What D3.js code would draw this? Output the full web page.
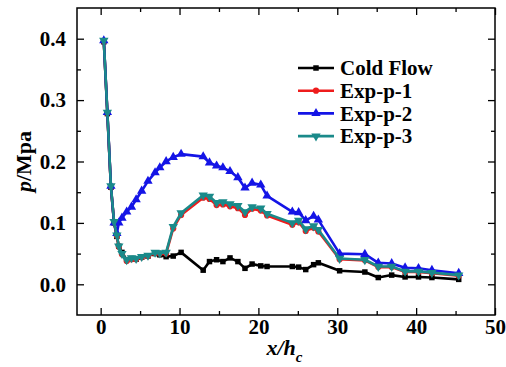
<!DOCTYPE html>
<html>
<head>
<meta charset="utf-8">
<script src="https://cdn.jsdelivr.net/npm/d3@7"></script>
<style>
body { margin: 0; background: #fff; }
svg { display: block; }
</style>
</head>
<body>
<svg id="chart" width="506" height="367"></svg>
<script>
// measuring points x/h_c
var xPos = [0.4, 0.85, 1.3, 1.7, 2.05, 2.3, 2.7, 3.3, 3.9, 4.5, 5.2, 6.0, 6.9, 7.5, 8.3, 9.2, 10.2,
    13.0, 13.8, 14.7, 15.5, 16.4, 17.4, 18.3, 19.2, 20.3, 21.1, 24.3, 25.1, 26.0, 27.0, 27.6,
    30.3, 33.5, 35.2, 36.9, 38.6, 40.3, 42.0, 45.4];

var coldFlow = [0.395, 0.278, 0.158, 0.100, 0.078, 0.062, 0.052, 0.040, 0.042, 0.041, 0.044, 0.046, 0.050, 0.048, 0.045, 0.046, 0.052,
    0.023, 0.037, 0.040, 0.037, 0.043, 0.037, 0.026, 0.033, 0.030, 0.029, 0.029, 0.028, 0.024, 0.032, 0.035,
    0.022, 0.020, 0.011, 0.015, 0.012, 0.012, 0.011, 0.008];

var expP1 = [0.396, 0.279, 0.159, 0.101, 0.079, 0.061, 0.049, 0.038, 0.041, 0.041, 0.044, 0.046, 0.051, 0.050, 0.050, 0.091, 0.113,
    0.141, 0.139, 0.129, 0.130, 0.127, 0.124, 0.113, 0.123, 0.120, 0.112, 0.097, 0.101, 0.087, 0.092, 0.086,
    0.041, 0.039, 0.028, 0.028, 0.020, 0.020, 0.018, 0.014];

var expP2 = [0.397, 0.280, 0.160, 0.100, 0.083, 0.100, 0.108, 0.118, 0.126, 0.138, 0.152, 0.168, 0.182, 0.190, 0.200, 0.207, 0.212,
    0.208, 0.198, 0.193, 0.190, 0.184, 0.174, 0.157, 0.165, 0.162, 0.144, 0.118, 0.117, 0.104, 0.111, 0.105,
    0.050, 0.049, 0.035, 0.034, 0.027, 0.026, 0.023, 0.018];

var expP3 = [0.397, 0.280, 0.160, 0.102, 0.080, 0.062, 0.050, 0.040, 0.043, 0.042, 0.045, 0.047, 0.052, 0.051, 0.052, 0.094, 0.116,
    0.145, 0.143, 0.133, 0.134, 0.131, 0.128, 0.118, 0.126, 0.124, 0.115, 0.100, 0.104, 0.090, 0.095, 0.089,
    0.042, 0.040, 0.029, 0.029, 0.021, 0.021, 0.019, 0.015];

var seriesNames = ["Cold Flow", "Exp-p-1", "Exp-p-2", "Exp-p-3"];
var seriesColors = ["#000000", "#ee1c1c", "#1414e6", "#1a8a8a"];

var xTicks = [0, 10, 20, 30, 40, 50];
var xMinor = [5, 15, 25, 35, 45];
var yTicks = [0.0, 0.1, 0.2, 0.3, 0.4];
var yMinor = [0.05, 0.15, 0.25, 0.35];

var FONT = '"Liberation Serif", "Times New Roman", "DejaVu Serif", serif';

var width = 506, height = 367;
var margin = {top: 8, right: 11, bottom: 52, left: 77};
var plotW = width - margin.left - margin.right;
var plotH = height - margin.top - margin.bottom;

var svg = d3.select("#chart");
var g = svg.append("g")
    .attr("transform", "translate(" + margin.left + "," + margin.top + ")");

var xScale = d3.scaleLinear().domain([-3, 50]).range([0, plotW]);
var yScale = d3.scaleLinear().domain([-0.05, 0.45]).range([plotH, 0]);

// axes, ticks pointing inwards, mirrored on top/right
function styleAxis(sel) {
    sel.attr("font-family", null).attr("font-size", null);
    sel.select(".domain").remove();
    sel.selectAll("line").attr("stroke", "#000").attr("stroke-width", 1.3);
    sel.selectAll("text")
        .style("font-family", FONT)
        .style("font-weight", "bold")
        .style("font-size", "21px")
        .attr("fill", "#000");
}

g.append("g").attr("transform", "translate(0," + plotH + ")")
    .call(d3.axisBottom(xScale).tickValues(xTicks).tickSize(-7).tickPadding(4).tickFormat(d3.format("d")))
    .call(styleAxis);
g.append("g").attr("transform", "translate(0," + plotH + ")")
    .call(d3.axisBottom(xScale).tickValues(xMinor).tickSize(-4).tickFormat(""))
    .call(styleAxis);
g.append("g")
    .call(d3.axisTop(xScale).tickValues(xTicks).tickSize(-7).tickFormat(""))
    .call(styleAxis);
g.append("g")
    .call(d3.axisTop(xScale).tickValues(xMinor).tickSize(-4).tickFormat(""))
    .call(styleAxis);

g.append("g")
    .call(d3.axisLeft(yScale).tickValues(yTicks).tickSize(-7).tickPadding(11).tickFormat(d3.format(".1f")))
    .call(styleAxis);
g.append("g")
    .call(d3.axisLeft(yScale).tickValues(yMinor).tickSize(-4).tickFormat(""))
    .call(styleAxis);
g.append("g").attr("transform", "translate(" + plotW + ",0)")
    .call(d3.axisRight(yScale).tickValues(yTicks).tickSize(-7).tickFormat(""))
    .call(styleAxis);
g.append("g").attr("transform", "translate(" + plotW + ",0)")
    .call(d3.axisRight(yScale).tickValues(yMinor).tickSize(-4).tickFormat(""))
    .call(styleAxis);

g.append("rect")
    .attr("width", plotW).attr("height", plotH)
    .attr("fill", "none").attr("stroke", "#000").attr("stroke-width", 1.5);

// series
var allSeries = [coldFlow, expP1, expP2, expP3];
var symbols = [
    {type: d3.symbolSquare, size: 30, rot: 0},
    {type: d3.symbolCircle, size: 30, rot: 0},
    {type: d3.symbolTriangle, size: 38, rot: 0},
    {type: d3.symbolTriangle, size: 38, rot: 180}
];

var line = d3.line()
    .x(function(d) { return xScale(d[0]); })
    .y(function(d) { return yScale(d[1]); });

allSeries.forEach(function(vals, i) {
    var pts = xPos.map(function(x, j) { return [x, vals[j]]; });
    var sg = g.append("g").attr("class", "series");
    sg.append("path")
        .datum(pts)
        .attr("d", line)
        .attr("fill", "none")
        .attr("stroke", seriesColors[i])
        .attr("stroke-width", 2.6)
        .attr("stroke-linejoin", "round");
    sg.selectAll("path.mark")
        .data(pts)
        .enter()
        .append("path")
        .attr("class", "mark")
        .attr("d", d3.symbol().type(symbols[i].type).size(symbols[i].size))
        .attr("transform", function(d) {
            return "translate(" + xScale(d[0]) + "," + yScale(d[1]) + ") rotate(" + symbols[i].rot + ")";
        })
        .attr("fill", seriesColors[i]);
});

// legend
var legend = svg.append("g").attr("transform", "translate(298,68)");
seriesNames.forEach(function(name, i) {
    var lg = legend.append("g").attr("transform", "translate(0," + (i * 22.7) + ")");
    lg.append("line")
        .attr("x1", 0).attr("x2", 36)
        .attr("stroke", seriesColors[i]).attr("stroke-width", 2.6);
    lg.append("path")
        .attr("d", d3.symbol().type(symbols[i].type).size(symbols[i].size))
        .attr("transform", "translate(18,0) rotate(" + symbols[i].rot + ")")
        .attr("fill", seriesColors[i]);
    lg.append("text")
        .attr("x", 42).attr("y", 0).attr("dy", "0.35em")
        .style("font-family", FONT)
        .style("font-weight", "bold")
        .style("font-size", "21px")
        .text(name);
});

// axis titles
var yt = svg.append("text")
    .attr("transform", "translate(31," + (margin.top + yScale(0.2)) + ") rotate(-90)")
    .attr("text-anchor", "middle")
    .style("font-family", FONT)
    .style("font-weight", "bold")
    .style("font-size", "22px");
yt.append("tspan").style("font-style", "italic").text("p");
yt.append("tspan").text("/Mpa");

var xt = svg.append("text")
    .attr("x", margin.left + xScale(23.3))
    .attr("y", 355)
    .attr("text-anchor", "middle")
    .style("font-family", FONT)
    .style("font-weight", "bold")
    .style("font-size", "22px")
    .style("font-style", "italic");
xt.append("tspan").text("x/h");
xt.append("tspan").attr("dy", 7).style("font-size", "15px").text("c");
</script>
</body>
</html>
